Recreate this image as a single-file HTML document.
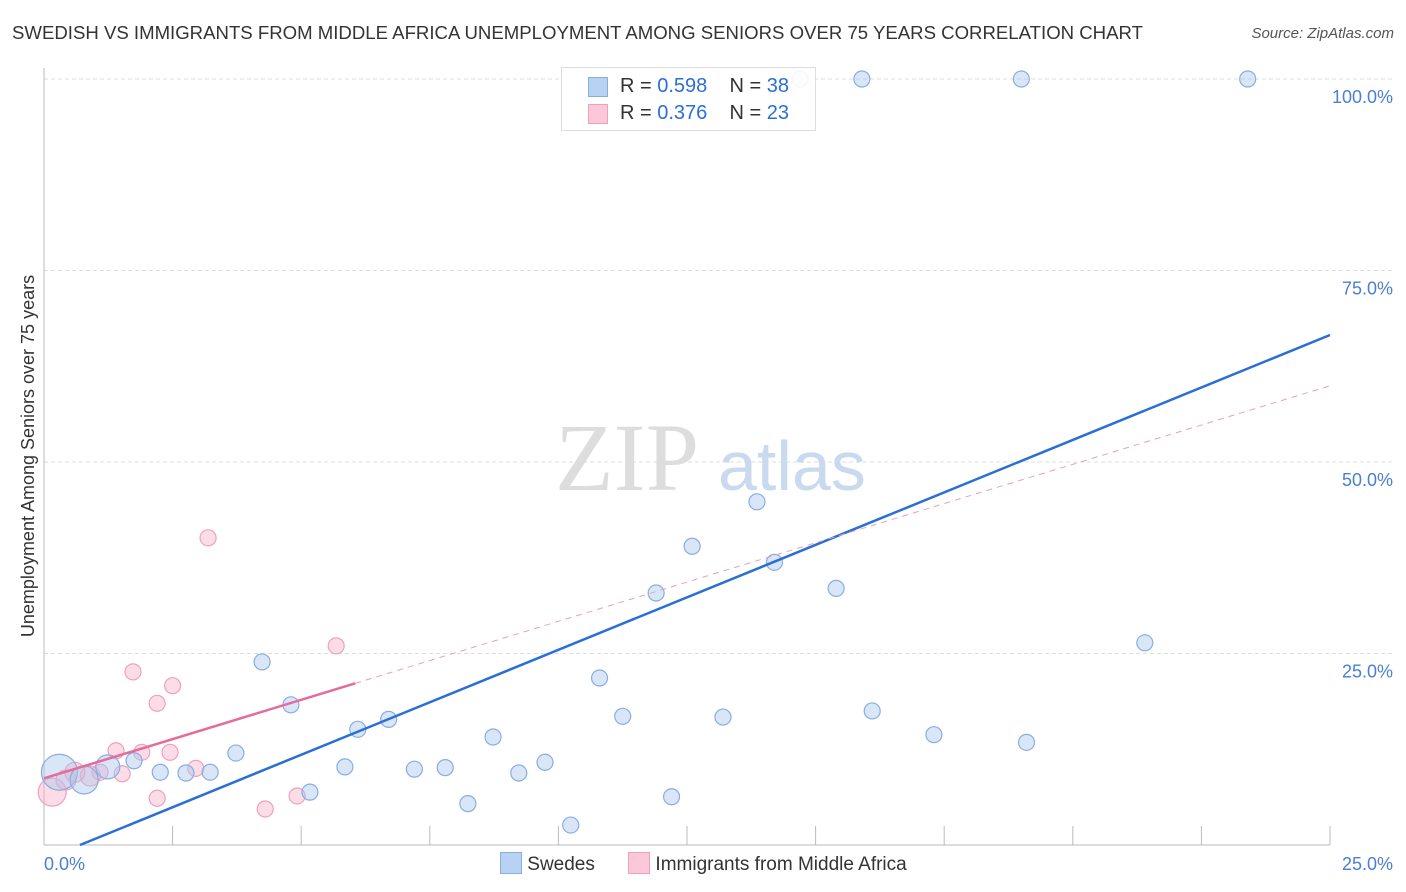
<!DOCTYPE html>
<html><head><meta charset="utf-8"><style>
body{margin:0;background:#fff;font-family:"Liberation Sans",sans-serif;}
#wrap{position:relative;width:1406px;height:892px;overflow:hidden;}
.t{position:absolute;white-space:nowrap;}
</style></head><body>
<div id="wrap">
<div class="t" style="left:12px;top:22px;font-size:18.6px;color:#333;">SWEDISH VS IMMIGRANTS FROM MIDDLE AFRICA UNEMPLOYMENT AMONG SENIORS OVER 75 YEARS CORRELATION CHART</div>
<div class="t" style="right:12px;top:25px;font-size:15px;color:#555;font-style:italic;">Source: ZipAtlas.com</div>
<svg id="svg" width="1406" height="892" style="position:absolute;left:0;top:0"></svg>
</div>
<script>
const yTicks=[25,50,75,100];
const yTickLabels=["25.0%","50.0%","75.0%","100.0%"];
const xLabels=["0.0%","25.0%"];
const swX=[14.7,15.9,19.0,23.4,13.86,12.6,14.2,11.9,15.4,21.4,4.24,10.8,4.8,11.25,13.2,16.1,6.7,6.1,8.73,17.3,19.1,3.73,9.74,5.85,7.2,7.8,9.23,1.75,2.26,2.76,3.23,1.24,5.17,8.24,12.2,10.24,0.3,0.78];
const swY=[100,100,100,100,44.8,39.0,36.9,32.9,33.5,26.4,23.9,21.8,18.3,16.8,16.7,17.5,16.4,15.1,14.1,14.4,13.4,12.0,10.8,10.2,9.9,10.1,9.4,11.0,9.5,9.4,9.5,10.2,6.9,5.4,6.3,2.6,9.5,8.5];
const swR=[8,8,8,8,8,8,8,8,8,8,8,8,8,8,8,8,8,8,8,8,8,8,8,8,8,8,8,8,8,8,8,12,8,8,8,8,18,14];
const maX=[3.19,5.68,1.73,2.5,2.2,1.4,1.9,2.45,2.95,1.52,1.09,2.2,4.3,4.92,0.16,0.43,0.9,0.6];
const maY=[40.1,26.0,22.6,20.8,18.5,12.3,12.1,12.1,10.0,9.3,9.5,6.1,4.7,6.4,6.9,8.5,9.0,9.5];
const maR=[8,8,8,8,8,8,8,8,8,8,8,8,8,8,14,10,10,10];
const blueLine={slope:2.74,intercept:-1.92,x0:0.7,x1:25};
const pinkLine={slope:2.05,intercept:8.7,solidEnd:6.05,x1:25};
const X0=44,X1=1330,Y0=845,Y100=79;
const sx=v=>X0+(X1-X0)*v/25, sy=v=>Y0-(Y0-Y100)*v/100;
const svg=document.getElementById('svg');const NS='http://www.w3.org/2000/svg';
function mk(t,a,name){const e=document.createElementNS(NS,t);for(const k in a)e.setAttribute(k,a[k]);


svg.appendChild(e);return e;}
yTicks.forEach((v,i)=>{mk('line',{x1:X0,x2:1395,y1:sy(v),y2:sy(v),stroke:'#ddd','stroke-dasharray':'4,3'},'gridline');
const t=mk('text',{x:1393,y:sy(v)+24,'text-anchor':'end','font-size':18,fill:'#4a7fd4','font-family':'Liberation Sans'},'y-tick-label');t.textContent=yTickLabels[i];});
mk('line',{x1:X0,x2:X0,y1:68,y2:Y0,stroke:'#bbb'},'y-axis');
mk('line',{x1:X0,x2:X1,y1:Y0,y2:Y0,stroke:'#bbb'},'x-axis');
for(let i=0;i<=10;i++){mk('line',{x1:sx(i*2.5),x2:sx(i*2.5),y1:826,y2:Y0,stroke:'#bbb'},'x-tick');}
[[0,'start',44],[1,'end',1393]].forEach(([i,a,x])=>{const t=mk('text',{x:x,y:870,'text-anchor':a,'font-size':18,fill:'#4a7fd4','font-family':'Liberation Sans'},'x-tick-label');t.textContent=xLabels[i];});
const yt=mk('text',{x:0,y:0,transform:'translate(34,456) rotate(-90)','text-anchor':'middle','font-size':18,fill:'#333','font-family':'Liberation Sans'},'y-axis-title');yt.textContent='Unemployment Among Seniors over 75 years';
const w1=mk('text',{x:555,y:490,'font-size':96,fill:'#ddd','font-family':'Liberation Serif'},'watermark-zip');w1.textContent='ZIP';
const w2=mk('text',{x:718,y:490,'font-size':70,fill:'#c9d9f0','font-family':'Liberation Sans'},'watermark-atlas');w2.textContent='atlas';
maX.forEach((v,i)=>mk('circle',{cx:sx(v),cy:sy(maY[i]),r:maR[i],fill:'rgba(248,170,195,0.4)',stroke:'#f0a0bb','stroke-width':1.2},'pink-point'));
swX.forEach((v,i)=>mk('circle',{cx:sx(v),cy:sy(swY[i]),r:swR[i],fill:'rgba(170,200,240,0.45)',stroke:'#88aee0','stroke-width':1.2},'blue-point'));
mk('line',{x1:sx(blueLine.x0),y1:sy(blueLine.intercept+blueLine.slope*blueLine.x0),x2:sx(blueLine.x1),y2:sy(blueLine.intercept+blueLine.slope*blueLine.x1),stroke:'#2a6fd6','stroke-width':2.5},'swedes-trendline');
mk('line',{x1:sx(0),y1:sy(pinkLine.intercept),x2:sx(pinkLine.solidEnd),y2:sy(pinkLine.intercept+pinkLine.slope*pinkLine.solidEnd),stroke:'#e56b9a','stroke-width':2.5},'immigrants-trendline');
mk('line',{x1:sx(pinkLine.solidEnd),y1:sy(pinkLine.intercept+pinkLine.slope*pinkLine.solidEnd),x2:sx(pinkLine.x1),y2:sy(pinkLine.intercept+pinkLine.slope*pinkLine.x1),stroke:'#e8a0b8','stroke-width':1,'stroke-dasharray':'6,5'},'immigrants-trendline-ext');
</script>
<div class="t" style="left:561px;top:67px;width:253px;height:62px;border:1px solid #ddd;background:rgba(255,255,255,0.9);font-size:20px;color:#333;">
<div style="position:absolute;left:26px;top:9px;width:18px;height:18px;background:#b8d2f5;border:1px solid #88aee0"></div>
<div class="t" style="left:58px;top:7px">R = <span style="color:#2a6fd6">0.598</span>&nbsp;&nbsp;&nbsp; N = <span style="color:#2a6fd6">38</span></div>
<div style="position:absolute;left:26px;top:36px;width:18px;height:18px;background:#fac8d8;border:1px solid #f0a0bb"></div>
<div class="t" style="left:58px;top:34px">R = <span style="color:#2a6fd6">0.376</span>&nbsp;&nbsp;&nbsp; N = <span style="color:#2a6fd6">23</span></div>
</div>
<div class="t" style="left:500px;top:852px;font-size:19px;color:#333;">
<span style="display:inline-block;width:20px;height:20px;background:#b8d2f5;border:1px solid #88aee0;vertical-align:-4px"></span> Swedes
<span style="display:inline-block;width:20px;height:20px;background:#fac8d8;border:1px solid #f0a0bb;vertical-align:-4px;margin-left:28px"></span> Immigrants from Middle Africa
</div>
</body></html>
